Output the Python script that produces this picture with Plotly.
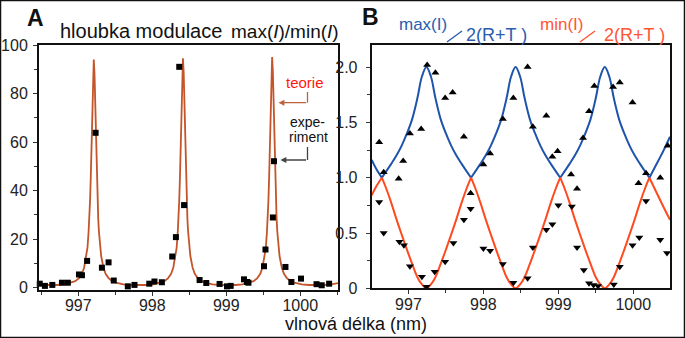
import plotly.graph_objects as go

W, H = 685, 338

# ---------------- Panel A data ----------------
a_exp_x = [996.48, 996.55, 996.65, 996.78, 996.86, 997.01, 997.05, 997.12, 997.235, 997.32,
           997.41, 997.48, 997.67, 997.76, 997.96, 998.03, 998.13, 998.27, 998.32, 998.365,
           998.43, 998.64, 998.73, 998.91, 999.01, 999.06, 999.24, 999.28, 999.30, 999.51,
           999.53, 999.63, 999.645, 999.80, 999.88, 1000.01, 1000.22, 1000.29, 1000.39]
a_exp_y = [1.6, 0.7, 1.1, 2.0, 2.0, 5.4, 5.1, 11.0, 63.8, 8.2,
           10.4, 2.9, 0.5, 1.1, 1.6, 2.5, 2.2, 12.8, 20.8, 91.0,
           34.0, 3.1, 1.9, 1.5, 0.5, 0.7, 3.4, 2.3, 2.0, 8.8,
           15.7, 28.9, 52.1, 8.5, 2.3, 3.7, 1.4, 0.95, 1.6]

a_th_x = [996.47, 996.54, 996.61, 996.71, 996.81, 996.91, 996.96, 997.01, 997.05, 997.08,
          997.11, 997.125, 997.14, 997.15, 997.16, 997.17, 997.18, 997.19, 997.20, 997.21,
          997.22, 997.23, 997.24, 997.25, 997.26, 997.27, 997.28, 997.295, 997.31, 997.34,
          997.37, 997.41, 997.46, 997.51, 997.61, 997.71, 997.81,
          997.915, 998.015, 998.115, 998.165, 998.215, 998.255, 998.285, 998.315, 998.33,
          998.345, 998.355, 998.365, 998.375, 998.385, 998.395, 998.405, 998.415, 998.425,
          998.435, 998.445, 998.455, 998.465, 998.475, 998.485, 998.50, 998.515, 998.545,
          998.575, 998.615, 998.665, 998.715, 998.815, 998.915, 999.015,
          999.12, 999.22, 999.32, 999.37, 999.42, 999.46, 999.49, 999.52, 999.535,
          999.55, 999.56, 999.57, 999.58, 999.59, 999.60, 999.61, 999.62, 999.63,
          999.64, 999.65, 999.66, 999.67, 999.68, 999.69, 999.705, 999.72, 999.75,
          999.78, 999.82, 999.87, 999.92, 1000.02, 1000.12, 1000.22, 1000.32, 1000.42, 1000.51]
a_th_y = [1.1, 1.03, 1.0, 1.07, 1.33, 2.0, 2.65, 3.9, 5.7, 8.3,
          13, 16.5, 23, 28.5, 36, 46, 59.5, 75, 88, 94,
          88, 75, 59.5, 46, 36, 28.5, 23, 16.5, 13, 8.3,
          5.7, 3.9, 2.65, 2.0, 1.33, 1.07, 1.0,
          1.07, 1.33, 2.0, 2.65, 3.9, 5.7, 8.3, 13, 16.5,
          23, 28.5, 36, 46, 59.5, 75, 88.5, 94.5, 88.5,
          75, 59.5, 46, 36, 28.5, 23, 16.5, 13, 8.3,
          5.7, 3.9, 2.65, 2.0, 1.33, 1.07, 1.0,
          1.07, 1.33, 2.0, 2.65, 3.9, 5.7, 8.3, 13, 16.5,
          23, 28.5, 36, 46, 59.5, 75, 89, 95, 89,
          75, 59.5, 46, 36, 28.5, 23, 16.5, 13, 8.3,
          5.7, 3.9, 2.65, 2.0, 1.33, 1.07, 1.0, 1.07, 1.33, 1.8]

# ---------------- Panel B data ----------------
b_max_x = [996.61, 996.67, 996.87, 996.93, 997.02, 997.17, 997.25, 997.36, 997.49, 997.59,
           997.74, 997.83, 998.00, 998.09, 998.26, 998.40, 998.59, 998.66, 998.84, 998.92,
           998.99, 999.17, 999.25, 999.33, 999.41, 999.48, 999.73, 999.82, 999.99, 1000.07,
           1000.17, 1000.36, 1000.46]
b_max_y = [1.32, 1.05, 0.99, 1.15, 1.40, 1.44, 2.02, 1.95, 1.72, 1.77,
           1.37, 0.86, 1.12, 1.22, 1.53, 1.72, 2.00, 1.46, 1.56, 1.19,
           1.24, 1.03, 0.90, 1.36, 1.60, 1.83, 1.82, 1.86, 1.68, 0.95,
           1.04, 1.00, 1.29]
b_min_x = [996.61, 996.67, 996.88, 996.94, 997.02, 997.18, 997.24, 997.35, 997.49, 997.60,
           997.74, 997.83, 998.00, 998.09, 998.26, 998.40, 998.59, 998.66, 998.84, 998.92,
           999.00, 999.18, 999.25, 999.34, 999.41, 999.47, 999.53, 999.74, 999.82, 999.99,
           1000.08, 1000.17, 1000.36, 1000.45]
b_min_y = [0.78, 0.50, 0.42, 0.39, 0.20, 0.105, 0.015, 0.15, 0.24, 0.41,
           0.62, 0.72, 0.36, 0.34, 0.22, 0.05, 0.09, 0.37, 0.53, 0.58,
           0.75, 0.74, 0.37, 0.165, 0.045, 0.03, 0.02, 0.035, 0.195, 0.39,
           0.46, 0.79, 0.44, 0.32]

# theory arches (None separates arches, so cusps stay sharp)
b_th_x = [996.51, 996.57, 996.645, None,
          996.645, 996.705, 996.77, 996.84, 996.91, 996.98, 997.05, 997.12, 997.18, 997.24,
          997.30, 997.36, 997.43, 997.50, 997.57, 997.64, 997.71, 997.775, 997.835, None,
          997.835, 997.895, 997.96, 998.03, 998.10, 998.17, 998.24, 998.31, 998.37, 998.43,
          998.49, 998.55, 998.62, 998.69, 998.76, 998.83, 998.90, 998.965, 999.025, None,
          999.025, 999.085, 999.15, 999.22, 999.29, 999.36, 999.43, 999.50, 999.56, 999.62,
          999.68, 999.74, 999.81, 999.88, 999.95, 1000.02, 1000.09, 1000.155, 1000.215, None,
          1000.215, 1000.30, 1000.40, 1000.49]
b_blue_y = [1.16, 1.08, 1.0, None,
            1.0, 1.06, 1.125, 1.20, 1.29, 1.40, 1.53, 1.72, 1.915, 2.0,
            1.915, 1.72, 1.53, 1.40, 1.29, 1.20, 1.125, 1.06, 1.0, None,
            1.0, 1.06, 1.125, 1.20, 1.29, 1.40, 1.53, 1.72, 1.915, 2.0,
            1.915, 1.72, 1.53, 1.40, 1.29, 1.20, 1.125, 1.06, 1.0, None,
            1.0, 1.06, 1.125, 1.20, 1.29, 1.40, 1.53, 1.72, 1.915, 2.0,
            1.915, 1.72, 1.53, 1.40, 1.29, 1.20, 1.125, 1.06, 1.0, None,
            1.0, 1.11, 1.24, 1.37]
b_orange_y = [0.84, 0.92, 1.0, None,
              1.0, 0.90, 0.775, 0.625, 0.485, 0.35, 0.22, 0.10, 0.035, 0.0,
              0.035, 0.10, 0.22, 0.35, 0.485, 0.625, 0.775, 0.90, 1.0, None,
              1.0, 0.90, 0.775, 0.625, 0.485, 0.35, 0.22, 0.10, 0.035, 0.0,
              0.035, 0.10, 0.22, 0.35, 0.485, 0.625, 0.775, 0.90, 1.0, None,
              1.0, 0.90, 0.775, 0.625, 0.485, 0.35, 0.22, 0.10, 0.035, 0.0,
              0.035, 0.10, 0.22, 0.35, 0.485, 0.625, 0.775, 0.90, 1.0, None,
              1.0, 0.88, 0.74, 0.62]

x_ticks = [997, 998, 999, 1000]
x_ticktext = ["997", "998", "999", "1000"]
a_yticks = [0, 20, 40, 60, 80, 100]
b_yticks = [0, 0.5, 1.0, 1.5, 2.0]
b_yticktext = ["0", "0.5", "1.0", "1.5", "2.0"]

FONT = "Liberation Sans, Arial, sans-serif"
C_A = "#c4552a"
C_BLUE = "#1f54ab"
C_ORANGE = "#ff4a20"


def px(x):
    return x / W


def py(y):
    return 1 - y / H


fig = go.Figure()
fig.add_trace(go.Scatter(x=a_th_x, y=a_th_y, mode="lines", line=dict(color=C_A, width=1.8),
                         xaxis="x", yaxis="y", showlegend=False))
fig.add_trace(go.Scatter(x=a_exp_x, y=a_exp_y, mode="markers",
                         marker=dict(symbol="square", size=6, color="black"),
                         xaxis="x", yaxis="y", showlegend=False, cliponaxis=False))
fig.add_trace(go.Scatter(x=b_th_x, y=b_blue_y, mode="lines",
                         line=dict(color=C_BLUE, width=2, shape="spline"),
                         connectgaps=False, xaxis="x2", yaxis="y2", showlegend=False))
fig.add_trace(go.Scatter(x=b_th_x, y=b_orange_y, mode="lines",
                         line=dict(color=C_ORANGE, width=2, shape="spline"),
                         connectgaps=False, xaxis="x2", yaxis="y2", showlegend=False))
fig.add_trace(go.Scatter(x=b_max_x, y=b_max_y, mode="markers",
                         marker=dict(symbol="triangle-up", size=7, color="black"),
                         xaxis="x2", yaxis="y2", showlegend=False, cliponaxis=False))
fig.add_trace(go.Scatter(x=b_min_x, y=b_min_y, mode="markers",
                         marker=dict(symbol="triangle-down", size=7, color="black"),
                         xaxis="x2", yaxis="y2", showlegend=False, cliponaxis=False))

axis_common = dict(showline=True, linewidth=2, linecolor="#111", mirror=True,
                   showgrid=False, zeroline=False, ticks="outside", ticklen=4,
                   tickwidth=1, tickcolor="#333", automargin=False,
                   tickfont=dict(family=FONT, size=16, color="#222"))

fig.update_layout(
    width=W, height=H, margin=dict(l=0, r=0, t=0, b=0, pad=0, autoexpand=False),
    paper_bgcolor="white", plot_bgcolor="white",
    xaxis=dict(domain=[px(39), px(338)], range=[996.47, 1000.51], anchor="y",
               tickvals=x_ticks, ticktext=x_ticktext, ticklabelstandoff=-4,
               minor=dict(dtick=0.5, tick0=997, ticks="outside", ticklen=3, tickcolor="#333"),
               **axis_common),
    yaxis=dict(domain=[py(290), py(45)], range=[-1, 100], anchor="x",
               tickvals=a_yticks,
               minor=dict(dtick=10, tick0=0, ticks="outside", ticklen=3, tickcolor="#333"),
               ticklabelstandoff=2, **axis_common),
    xaxis2=dict(domain=[px(371.7), px(670)], range=[996.51, 1000.49], anchor="y2",
                tickvals=x_ticks, ticktext=x_ticktext, ticklabelstandoff=-4,
                minor=dict(dtick=0.5, tick0=997, ticks="outside", ticklen=3, tickcolor="#333"),
                **axis_common),
    yaxis2=dict(domain=[py(288.3), py(45)], range=[0, 2.2], anchor="x2",
                tickvals=b_yticks, ticktext=b_yticktext,
                minor=dict(dtick=0.25, tick0=0, ticks="outside", ticklen=3, tickcolor="#333"),
                ticklabelstandoff=5, **axis_common),
)

ann = []


def text(x, y, s, size, color="#111", bold=False, xanchor="center"):
    ann.append(dict(x=px(x), y=py(y), xref="paper", yref="paper", text=(f"<b>{s}</b>" if bold else s),
                    showarrow=False, xanchor=xanchor, yanchor="middle",
                    font=dict(family=FONT, size=size, color=color)))


text(35.5, 18, "A", 23, bold=True)
text(141, 31, "hloubka modulace", 20)
text(284.5, 31, "max(<i>I</i>)/min(<i>I</i>)", 19)
text(370, 17.5, "B", 23, bold=True)
text(423, 24, "max(I)", 17, color="#2a5db0")
text(496, 35, "2(R+T )", 18, color="#2a5db0")
text(561.5, 24, "min(I)", 17, color="#ff5533")
text(634, 35, "2(R+T )", 18, color="#ff5533")
text(356, 324, "vlnová délka (nm)", 18)
text(305, 82, "teorie", 15, color="#ff1a10")
text(307.5, 121.5, "expe-", 14)
text(308, 137, "riment", 14)

# elbow arrows: horizontal part with head
ann.append(dict(x=px(278.5), y=py(102.7), xref="paper", yref="paper", ax=29, ay=0,
                text="", showarrow=True, arrowhead=2,
                arrowsize=0.9, arrowwidth=1.3, arrowcolor="#c0603a"))
ann.append(dict(x=px(280.5), y=py(160), xref="paper", yref="paper", ax=27, ay=0,
                text="", showarrow=True, arrowhead=2,
                arrowsize=0.9, arrowwidth=1.3, arrowcolor="#444"))
fig.update_layout(annotations=ann)

shapes = [
    dict(type="line", xref="paper", yref="paper", x0=px(307.5), x1=px(307.5),
         y0=py(92), y1=py(102.7), line=dict(color="#c0603a", width=1.3)),
    dict(type="line", xref="paper", yref="paper", x0=px(307.5), x1=px(307.5),
         y0=py(147), y1=py(160), line=dict(color="#444", width=1.3)),
    # fraction slashes in panel B title
    dict(type="line", xref="paper", yref="paper", x0=px(447), x1=px(462),
         y0=py(42), y1=py(31), line=dict(color="#2a5db0", width=1.4)),
    dict(type="line", xref="paper", yref="paper", x0=px(580), x1=px(595),
         y0=py(42), y1=py(31), line=dict(color="#ff5533", width=1.4)),
    # outer border
    dict(type="rect", xref="paper", yref="paper", x0=0, x1=1, y0=0, y1=1,
         line=dict(color="#111", width=2.5)),
]
fig.update_layout(shapes=shapes)

fig.write_html("out.html")
